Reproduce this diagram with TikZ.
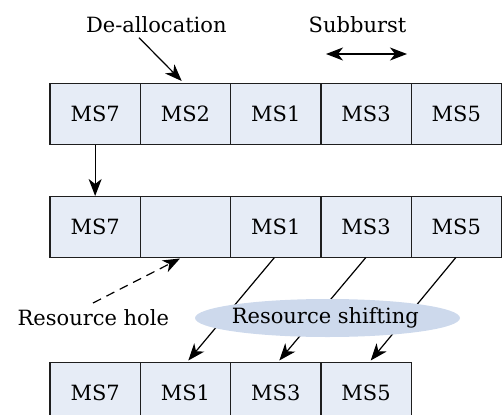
\documentclass[tikz,border=0pt]{standalone}
\usepackage{fontspec}
\setmainfont{DejaVu Serif}
\usetikzlibrary{arrows.meta,shapes.geometric}
\definecolor{cellfill}{RGB}{230,236,246}
\definecolor{ellfill}{RGB}{205,217,236}
\definecolor{lineg}{RGB}{30,30,30}
\tikzset{
  cell/.style={draw=lineg, line width=1.4pt, fill=cellfill, minimum width=90.3pt, minimum height=61pt, inner sep=0pt, font=\fontsize{21}{25}\selectfont},
  lbl/.style={inner sep=0pt, font=\fontsize{21}{25}\selectfont},
  arr/.style={draw=black, line width=1.2pt, -{Stealth[length=17pt,width=13pt,inset=5pt]}},
  darr/.style={draw=black, line width=1.2pt, {Stealth[length=17pt,width=13pt,inset=5pt]}-{Stealth[length=17pt,width=13pt,inset=5pt]}},
}
\begin{document}
\begin{tikzpicture}[x=1pt,y=-1pt]
\useasboundingbox (0,0) rectangle (502,414);
\clip (0,0) rectangle (502,414);
% row 1
\node[cell] (r1a) at (95.15,113.8) {MS7};
\node[cell] (r1b) at (185.45,113.8) {MS2};
\node[cell] (r1c) at (275.75,113.8) {MS1};
\node[cell] (r1d) at (366.05,113.8) {MS3};
\node[cell] (r1e) at (456.35,113.8) {MS5};
% row 2
\node[cell] (r2a) at (95.15,227.2) {MS7};
\node[cell] (r2b) at (185.45,227.2) {};
\node[cell] (r2c) at (275.75,227.2) {MS1};
\node[cell] (r2d) at (366.05,227.2) {MS3};
\node[cell] (r2e) at (456.35,227.2) {MS5};
% row 3
\node[cell] (r3a) at (95.15,392.8) {MS7};
\node[cell] (r3b) at (185.45,392.8) {MS1};
\node[cell] (r3c) at (275.75,392.8) {MS3};
\node[cell] (r3d) at (366.05,392.8) {MS5};
% labels
\node[lbl] (dealloc) at (156.3,25) {De-allocation};
\node[lbl] (subb) at (357.5,25) {Subburst};
\node[lbl] (hole) at (93.3,318) {Resource hole};
% connectors
\coordinate (dstart) at (139,37.7);
\coordinate (dend) at (181.7,81);
\draw[arr] (dstart) -- (dend);
\coordinate (sl) at (326,54);
\coordinate (sr) at (407,54);
\draw[darr] (sl) -- (sr);
\draw[arr] (r1a.south) -- (r2a.north);
\coordinate (hstart) at (93,303);
\coordinate (hend) at (180,258.5);
\draw[arr, dash pattern=on 9pt off 6pt] (hstart) -- (hend);
\coordinate (s1a) at (274.3,257.7);
\coordinate (s1b) at (188.3,360.5);
\coordinate (s2a) at (365.7,257.7);
\coordinate (s2b) at (279.3,360.5);
\coordinate (s3a) at (455.7,257.7);
\coordinate (s3b) at (370.7,360.5);
\draw[arr] (s1a) -- (s1b);
\draw[arr] (s2a) -- (s2b);
\draw[arr] (s3a) -- (s3b);
\node[ellipse, fill=ellfill, minimum width=265pt, minimum height=38pt, inner sep=0pt] (shift) at (327.5,318) {};
\node[lbl] (shiftlbl) at (325.3,318) {Resource shifting};
\end{tikzpicture}
\end{document}
